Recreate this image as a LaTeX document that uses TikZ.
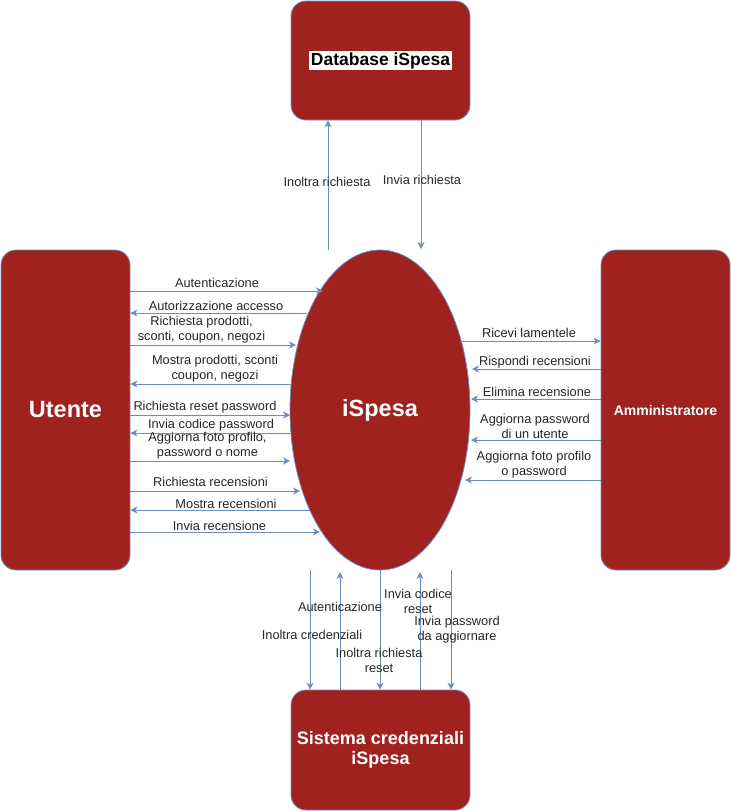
\documentclass[tikz,border=0pt]{standalone}
\usepackage{fontspec}
\setmainfont{Liberation Sans}
\usetikzlibrary{arrows.meta,shapes.geometric}
\definecolor{boxred}{RGB}{160,34,30}
\definecolor{edgeblue}{RGB}{108,142,191}
\begin{document}
\begin{tikzpicture}[x=1pt,y=-1pt,
 entity/.style={draw=edgeblue, fill=boxred, rounded corners=15pt, text=white, align=center, inner sep=0pt, line width=0.8pt},
 flow/.style={draw=edgeblue, line width=0.9pt, -{Stealth[length=7pt,width=7pt,inset=2pt]}},
 lbl/.style={font=\fontsize{12.8}{15}\selectfont, text=black!85, align=center, inner sep=0pt}]
\useasboundingbox (0,0) rectangle (731,812);
% entities
\node[entity, minimum width=129pt, minimum height=320pt, font=\bfseries\fontsize{23.5}{28}\selectfont] (U) at (65.5,410) {Utente};
\node[entity, minimum width=129pt, minimum height=320pt, font=\bfseries\fontsize{14}{17}\selectfont] (A) at (665.5,410) {Amministratore};
\node[entity, minimum width=179pt, minimum height=119pt, text=black, font=\bfseries\fontsize{17.5}{20}\selectfont] (D) at (380.5,60.5) {\setlength\fboxsep{1.5pt}\colorbox{white}{Database iSpesa}};
\node[entity, minimum width=179pt, minimum height=120pt, font=\bfseries\fontsize{18}{20}\selectfont] (P) at (380.5,750) {Sistema credenziali\\iSpesa};
\node[ellipse, draw=edgeblue, fill=boxred, line width=0.8pt, minimum width=180pt, minimum height=320pt, inner sep=0pt, text=white, font=\bfseries\fontsize{23.5}{28}\selectfont] (S) at (380,410) {iSpesa};
% left side
\coordinate (a1) at (323,291);
\coordinate (a2) at (307,313);
\coordinate (a3) at (296,345);
\coordinate (a4) at (291,384);
\coordinate (a5) at (290,415);
\coordinate (a6) at (290,433);
\coordinate (a7) at (290,461);
\coordinate (a8) at (300,491);
\coordinate (a9) at (310,510);
\coordinate (a10) at (320,532);
\draw[flow] (U.east |- a1) -- (a1);
\draw[flow] (a2) -- (U.east |- a2);
\draw[flow] (U.east |- a3) -- (a3);
\draw[flow] (a4) -- (U.east |- a4);
\draw[flow] (U.east |- a5) -- (a5);
\draw[flow] (a6) -- (U.east |- a6);
\draw[flow] (U.east |- a7) -- (a7);
\draw[flow] (U.east |- a8) -- (a8);
\draw[flow] (a9) -- (U.east |- a9);
\draw[flow] (U.east |- a10) -- (a10);
\node[lbl] (la1) at (217,283) {Autenticazione};
\node[lbl] (la2) at (216,306) {Autorizzazione accesso};
\node[lbl] (la3) at (201.5,330) {Richiesta prodotti,\\sconti, coupon, negozi};
\node[lbl] (la4) at (215,368.5) {Mostra prodotti, sconti\\coupon, negozi};
\node[lbl] (la5) at (205,407) {Richiesta reset password};
\node[lbl] (la6) at (211,425) {Invia codice password};
\node[lbl] (la7) at (207.5,446) {Aggiorna foto profilo,\\password o nome};
\node[lbl] (la8) at (210.5,482) {Richiesta recensioni};
\node[lbl] (la9) at (226,504) {Mostra recensioni};
\node[lbl] (la10) at (219.5,526) {Invia recensione};
% right side
\coordinate (b1) at (460,341);
\coordinate (b2) at (472,369);
\coordinate (b3) at (471,399);
\coordinate (b4) at (471,440);
\coordinate (b5) at (465,480);
\draw[flow] (b1) -- (A.west |- b1);
\draw[flow] (A.west |- b2) -- (b2);
\draw[flow] (A.west |- b3) -- (b3);
\draw[flow] (A.west |- b4) -- (b4);
\draw[flow] (A.west |- b5) -- (b5);
\node[lbl] (lb1) at (529,333) {Ricevi lamentele};
\node[lbl] (lb2) at (535,362) {Rispondi recensioni};
\node[lbl] (lb3) at (537,392) {Elimina recensione};
\node[lbl] (lb4) at (535,426) {Aggiorna password\\di un utente};
\node[lbl] (lb5) at (534,465) {Aggiorna foto profilo\\o password};
% top
\coordinate (t1) at (328,250);
\coordinate (t2) at (421,249);
\draw[flow] (t1) -- (D.south -| t1);
\draw[flow] (D.south -| t2) -- (t2);
\node[lbl] (lt1) at (327,182) {Inoltra richiesta};
\node[lbl] (lt2) at (422,180) {Invia richiesta};
% bottom
\coordinate (c1) at (310,570);
\coordinate (c2) at (340,572);
\coordinate (c3) at (380,570);
\coordinate (c4) at (420,572);
\coordinate (c5) at (451,570);
\draw[flow] (c1) -- (P.north -| c1);
\draw[flow] (P.north -| c2) -- (c2);
\draw[flow] (c3) -- (P.north -| c3);
\draw[flow] (P.north -| c4) -- (c4);
\draw[flow] (c5) -- (P.north -| c5);
\node[lbl] (lc1) at (312,635) {Inoltra credenziali};
\node[lbl] (lc2) at (340,607) {Autenticazione};
\node[lbl] (lc3) at (379,660) {Inoltra richiesta\\reset};
\node[lbl] (lc4) at (418,601) {Invia codice\\reset};
\node[lbl] (lc5) at (457,630) {Invia password\\da aggiornare};
\end{tikzpicture}
\end{document}
